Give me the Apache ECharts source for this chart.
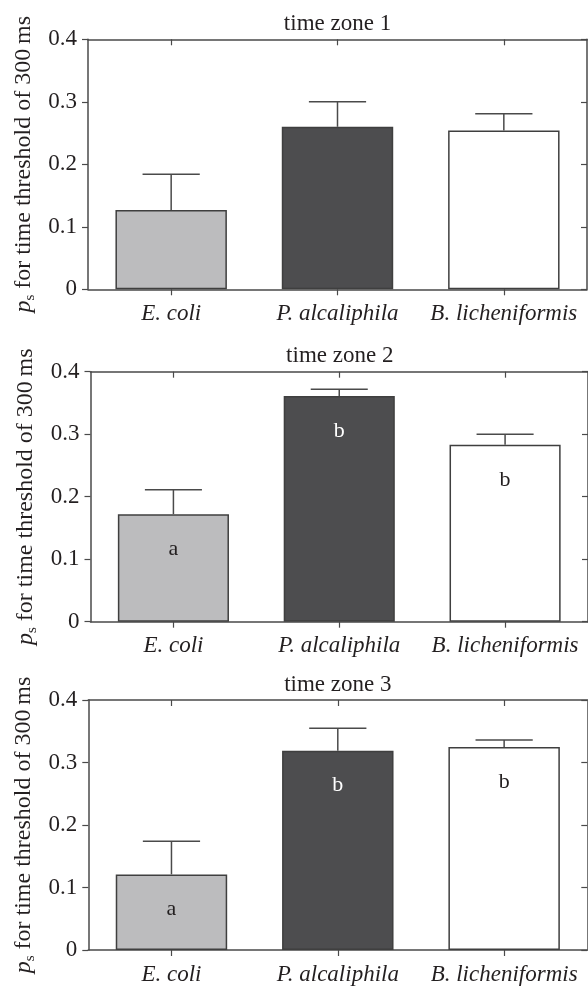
<!DOCTYPE html>
<html>
<head>
<meta charset="utf-8">
<script src="https://cdn.jsdelivr.net/npm/echarts@6/dist/echarts.min.js"></script>
<style>
  html, body { margin: 0; padding: 0; background: #fff; }
  #chart { width: 588px; height: 988px; }
</style>
</head>
<body>
<div id="chart"></div>
<script>
// ---- data ----
const categories = ['E. coli', 'P. alcaliphila', 'B. licheniformis'];
const zoneTitles = ['time zone 1', 'time zone 2', 'time zone 3'];
const zone1Mean = [0.127, 0.260, 0.254];
const zone1Upper = [0.184, 0.300, 0.281];
const zone2Mean = [0.172, 0.361, 0.283];
const zone2Upper = [0.211, 0.372, 0.300];
const zone3Mean = [0.121, 0.319, 0.325];
const zone3Upper = [0.174, 0.355, 0.336];
const zone1Letters = ['', '', ''];
const zone2Letters = ['a', 'b', 'b'];
const zone3Letters = ['a', 'b', 'b'];
const yTickValues = [0, 0.1, 0.2, 0.3, 0.4];

// ---- styling ----
const FONT = 'Liberation Serif';
const TEXT = '#231f20';
const LINE = '#4a4a4a';
const barColors = ['#bcbcbe', '#4d4d4f', '#ffffff'];
const letterColors = [TEXT, '#ffffff', TEXT];

const zones = [
  { mean: zone1Mean, upper: zone1Upper, letters: zone1Letters },
  { mean: zone2Mean, upper: zone2Upper, letters: zone2Letters },
  { mean: zone3Mean, upper: zone3Upper, letters: zone3Letters }
];
const grids = [
  { left: 88, top: 39.3, width: 499, height: 250 },
  { left: 90.5, top: 371.7, width: 498.5, height: 250 },
  { left: 88.3, top: 700, width: 499, height: 250 }
];

const option = {
  animation: false,
  backgroundColor: '#ffffff',
  title: [], grid: [], xAxis: [], yAxis: [], series: []
};

zones.forEach((z, i) => {
  const g = grids[i];
  option.grid.push({ left: g.left, top: g.top, width: g.width, height: g.height, containLabel: false });
  option.title.push({
    text: zoneTitles[i],
    left: g.left + g.width / 2 - 5,
    top: g.top - 32,
    textAlign: 'center',
    textStyle: { fontFamily: FONT, fontSize: 23, fontWeight: 'normal', color: TEXT }
  });
  // bottom category axis
  option.xAxis.push({
    type: 'category', gridIndex: i, data: categories, position: 'bottom',
    axisLine: { show: true, lineStyle: { color: LINE, width: 1.5 } },
    axisTick: { show: true, alignWithLabel: true, inside: false, length: 6, lineStyle: { color: LINE, width: 1.2 } },
    axisLabel: { show: true, interval: 0, hideOverlap: false, margin: 13, fontFamily: FONT, fontStyle: 'italic', fontSize: 23, color: TEXT },
    splitLine: { show: false }
  });
  // top frame axis
  option.xAxis.push({
    type: 'category', gridIndex: i, data: categories, position: 'top',
    axisLine: { show: true, onZero: false, lineStyle: { color: LINE, width: 1.5 } },
    axisTick: { show: true, alignWithLabel: true, inside: true, length: 6, lineStyle: { color: LINE, width: 1.2 } },
    axisLabel: { show: false }, splitLine: { show: false }
  });
  // left value axis
  option.yAxis.push({
    type: 'value', gridIndex: i, min: 0, max: 0.4, interval: 0.1, position: 'left',
    name: '{i|p}{s|s} for time threshold of 300\u2009ms',
    nameLocation: 'middle', nameGap: 50,
    nameTextStyle: {
      fontFamily: FONT, fontSize: 24, color: TEXT, lineHeight: 28,
      rich: {
        i: { fontFamily: FONT, fontStyle: 'italic', fontSize: 24, color: TEXT, lineHeight: 28 },
        s: { fontFamily: FONT, fontSize: 15, color: TEXT, lineHeight: 15, verticalAlign: 'bottom' }
      }
    },
    axisLine: { show: true, onZero: false, lineStyle: { color: LINE, width: 1.5 } },
    axisTick: { show: true, inside: false, length: 6, lineStyle: { color: LINE, width: 1.2 } },
    axisLabel: {
      show: true, margin: 11, fontFamily: FONT, fontSize: 23, color: TEXT,
      formatter: v => (yTickValues.indexOf(Math.round(v * 10) / 10) >= 0 ? (v === 0 ? '0' : v.toFixed(1)) : '')
    },
    splitLine: { show: false }
  });
  // right frame axis
  option.yAxis.push({
    type: 'value', gridIndex: i, min: 0, max: 0.4, interval: 0.1, position: 'right',
    axisLine: { show: true, onZero: false, lineStyle: { color: LINE, width: 1.5 } },
    axisTick: { show: true, inside: true, length: 6, lineStyle: { color: LINE, width: 1.2 } },
    axisLabel: { show: false }, splitLine: { show: false }
  });

  option.series.push({
    type: 'bar', xAxisIndex: 2 * i, yAxisIndex: 2 * i,
    barWidth: '67%',
    data: z.mean.map((v, k) => ({
      value: v,
      itemStyle: { color: barColors[k], borderColor: '#3f3f3f', borderWidth: 1.5 },
      label: {
        show: z.letters[k] !== '', formatter: z.letters[k],
        position: 'insideTop', distance: 24,
        fontFamily: FONT, fontSize: 22, color: letterColors[k]
      }
    })),
    z: 2
  });
  option.series.push({
    type: 'custom', xAxisIndex: 2 * i, yAxisIndex: 2 * i, z: 3,
    data: z.mean.map((v, k) => [k, v, z.upper[k]]),
    renderItem: (params, api) => {
      const base = api.coord([api.value(0), api.value(1)]);
      const top = api.coord([api.value(0), api.value(2)]);
      const half = api.size([1, 0])[0] * 0.172;
      const st = { stroke: LINE, lineWidth: 1.5 };
      return {
        type: 'group',
        children: [
          { type: 'line', shape: { x1: base[0], y1: base[1], x2: top[0], y2: top[1] }, style: st },
          { type: 'line', shape: { x1: top[0] - half, y1: top[1], x2: top[0] + half, y2: top[1] }, style: st }
        ]
      };
    }
  });
});

const chart = echarts.init(document.getElementById('chart'), null, { renderer: 'canvas' });
chart.setOption(option);
</script>
</body>
</html>
